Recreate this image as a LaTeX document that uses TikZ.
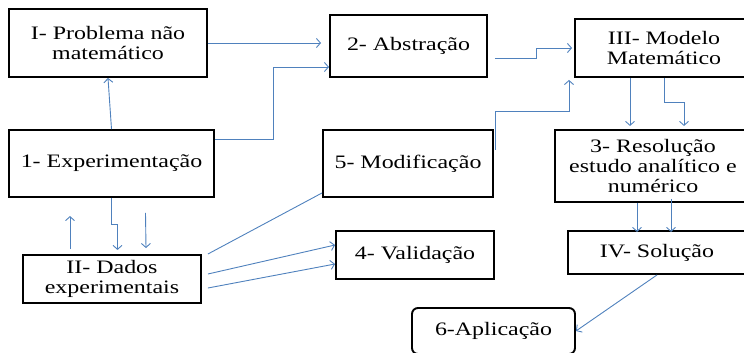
\documentclass[tikz,border=0pt]{standalone}
\usepackage{fontspec}
\setmainfont[FakeStretch=1.26]{Liberation Serif}
\usetikzlibrary{arrows.meta}
\definecolor{linkblue}{RGB}{79,129,189}
\tikzset{
  box/.style={draw, line width=1.9pt, align=center, inner sep=0pt, font=\fontsize{19}{20}\selectfont},
  link/.style={linkblue, line width=0.9pt, -{Straight Barb[length=4pt,width=9pt]}},
  plainlink/.style={linkblue, line width=0.9pt},
}
\begin{document}
\begin{tikzpicture}[x=1pt,y=-1pt]
    \clip (0,0) rectangle (744,353);
    % les boites
    \node[box, minimum width=198pt, minimum height=68pt] (prob) at (108,43) {I- Problema não\\matemático};
    \node[box, minimum width=157pt, minimum height=62pt] (abst) at (408.5,46) {2- Abstração};
    \node[box, minimum width=178pt, minimum height=58pt] (model) at (664,48) {III- Modelo\\Matemático};
    \node[box, minimum width=205pt, minimum height=67pt] (exper) at (111.5,163.5) {1- Experimentação};
    \node[box, minimum width=170pt, minimum height=67pt] (modif) at (408,163.5) {5- Modificação};
    \node[box, minimum width=196pt, minimum height=72pt] (resol) at (653,166) {3- Resolução\\estudo analítico e\\numérico};
    \node[box, minimum width=178pt, minimum height=48pt] (dados) at (112,279) {II- Dados\\experimentais};
    \node[box, minimum width=158pt, minimum height=48pt] (valid) at (415,255) {4- Validação};
    \node[box, minimum width=178pt, minimum height=43pt] (sol) at (657,252.5) {IV- Solução};
    \node[box, rounded corners=6pt, minimum width=163pt, minimum height=46pt] (aplic) at (493.5,331) {6-Aplicação};
    % les fleches
    \draw[link, shorten >=8pt] (prob.east) -- (prob.east -| abst.west);
    \draw[link] (exper.north) -- (prob.south);
    \draw[link] ([yshift=24pt]exper.east) -- ++(58,0) |- ([yshift=-21pt]abst.west);
    \draw[link, shorten >=2pt] ([shift={(7pt,-12pt)}]abst.east) -- ++(41,0) |- (model.west);
    \draw[link, shorten >=2pt] ([shift={(1pt,14pt)}]modif.east) -- ++(0,-38) -| ([xshift=-95pt]model.south);
    \draw[link] ([xshift=-34pt]model.south) -- ++(0,48);
    \draw[link] (model.south) -- ++(0,24) -| ++(20,24);
    \draw[link] ([xshift=-16pt]resol.south) -- ++(0,29);
    \draw[link] ([shift={(18pt,4pt)}]resol.south) -- ++(0,33);
    \draw[link] (sol.south) -- (aplic.east);
    \draw[link] (exper.south) -- ++(0,26) -| ++(6,26);
    \draw[link] ([xshift=34pt,yshift=-15pt]exper.south) -- ([xshift=34pt,yshift=6pt]dados.north);
    \draw[link] ([xshift=-42pt,yshift=5pt]dados.north) -- ++(0,-33);
    \draw[plainlink] ([shift={(6pt,25pt)}]dados.east) -- ([yshift=5pt]modif.south west);
    \draw[link] ([shift={(6pt,5pt)}]dados.east) -- ([yshift=10pt]valid.west);
    \draw[link] ([shift={(6pt,-9pt)}]dados.east) -- ([yshift=-9pt]valid.west);
\end{tikzpicture}
\end{document}
